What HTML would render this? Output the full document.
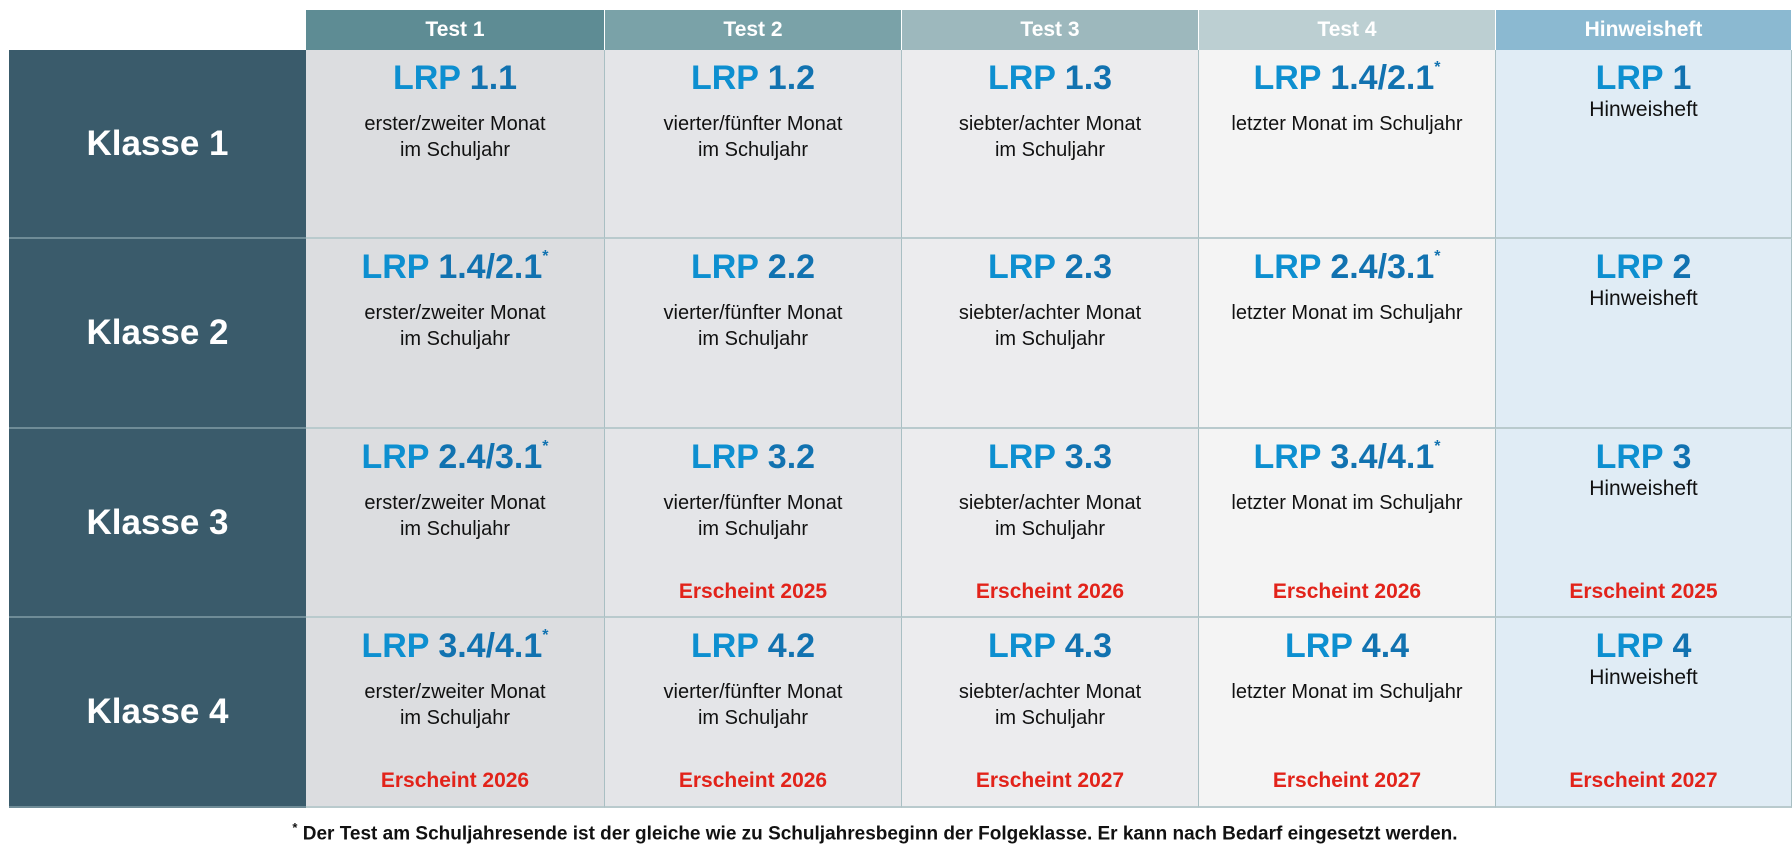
<!DOCTYPE html>
<html><head><meta charset="utf-8"><style>
body{margin:0;width:1792px;height:854px;background:#fff;position:relative;overflow:hidden;font-family:"Liberation Sans Narrow","Liberation Sans",sans-serif;}
.a{position:absolute;box-sizing:border-box;}
.hd{color:#fff;font-weight:bold;font-size:21px;display:flex;align-items:center;justify-content:center;}
.kl{background:#3a5b6b;color:#fff;font-weight:bold;font-size:35px;display:flex;align-items:center;justify-content:center;border-bottom:2px solid #6f8c97;}
.cell{border-right:1px solid #a9bfc3;border-bottom:2px solid #b9cacd;text-align:center;}
.t{position:absolute;left:0;right:0;top:8px;font-weight:bold;font-size:34px;line-height:40px;color:#0d8fd0;}
.t b{color:#1172b0;}
.t sup{font-size:16px;vertical-align:top;line-height:20px;color:#1172b0;}
.s{position:absolute;left:0;right:0;top:61px;font-size:20px;line-height:26px;color:#111;}
.h{position:absolute;left:0;right:0;top:47px;font-size:21px;line-height:26px;color:#111;}
.e{position:absolute;left:0;right:0;top:149px;font-size:21px;font-weight:bold;color:#e2231a;line-height:28px;}
</style></head><body>
<div id="root"></div>
<div class="a" style="left:0;width:1750px;top:820px;text-align:center;font-weight:bold;font-size:19px;color:#111;"><sup style="font-size:13px">*</sup> Der Test am Schuljahresende ist der gleiche wie zu Schuljahresbeginn der Folgeklasse. Er kann nach Bedarf eingesetzt werden.</div>
<script>
const cols=[306,605,902,1199,1496,1792];
const rows=[50,239,429,618,808];
const headers=["Test 1","Test 2","Test 3","Test 4","Hinweisheft"];
const headerColors=["#5e8c94","#7aa2a8","#9db8bd","#bccfd2","#8bb9d1"];
const cellColors=["#dcdde0","#e4e5e8","#ececee","#f4f4f4","#e0ecf5"];
const classes=["Klasse 1","Klasse 2","Klasse 3","Klasse 4"];
const titles=[["1.1","1.2","1.3","1.4/2.1*","1"],["1.4/2.1*","2.2","2.3","2.4/3.1*","2"],["2.4/3.1*","3.2","3.3","3.4/4.1*","3"],["3.4/4.1*","4.2","4.3","4.4","4"]];
const subs=["erster/zweiter Monat<br>im Schuljahr","vierter/fünfter Monat<br>im Schuljahr","siebter/achter Monat<br>im Schuljahr","letzter Monat im Schuljahr"];
const years=[["","","","",""],["","","","",""],["","2025","2026","2026","2025"],["2026","2026","2027","2027","2027"]];
const root=document.getElementById('root');
function mk(cls,l,t,w,h){const d=document.createElement('div');d.className='a '+cls;d.style.left=l+'px';d.style.top=t+'px';d.style.width=w+'px';d.style.height=h+'px';root.appendChild(d);return d;}
headers.forEach((h,i)=>{
 const d=mk('hd',cols[i],10,cols[i+1]-cols[i],40);
 d.style.background=headerColors[i];d.style.borderRight='1px solid #fff';d.textContent=h;
 
 
});
classes.forEach((k,r)=>{
 const d=mk('kl',9,rows[r],cols[0]-9,rows[r+1]-rows[r]);d.textContent=k;
 
 
 for(let c=0;c<5;c++){
  const e=mk('cell',cols[c],rows[r],cols[c+1]-cols[c],rows[r+1]-rows[r]);
  e.style.background=cellColors[c];
  
  
  let t=titles[r][c];const star=t.endsWith('*');if(star)t=t.slice(0,-1);
  e.innerHTML='<div class="t">LRP <b>'+t+'</b>'+(star?'<sup>*</sup>':'')+'</div>'+
   (c<4?'<div class="s">'+subs[c]+'</div>':'<div class="h">Hinweisheft</div>')+
   (years[r][c]?'<div class="e">Erscheint '+years[r][c]+'</div>':'');
 }
});
</script>
</body></html>
